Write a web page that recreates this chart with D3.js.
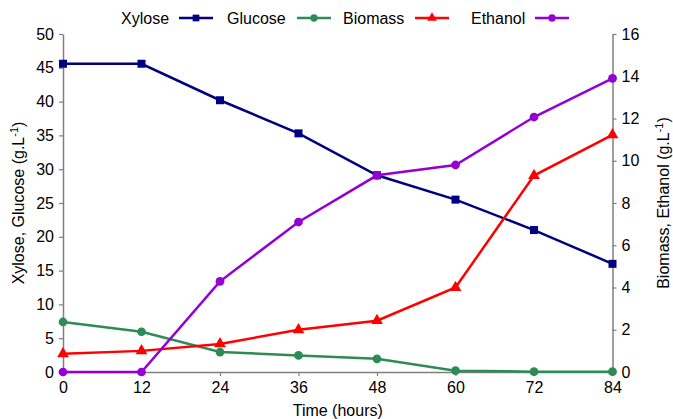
<!DOCTYPE html>
<html><head><meta charset="utf-8">
<script src="https://cdn.jsdelivr.net/npm/d3@7"></script>
<style>
body{margin:0;background:#fff;}
text{font-family:"Liberation Sans",Arial,sans-serif;fill:#000;}
</style></head><body>
<svg id="c" width="673" height="419"></svg>
<script>
const hours = [0, 12, 24, 36, 48, 60, 72, 84];
const xylose = [45.6, 45.6, 40.2, 35.3, 29.1, 25.5, 21.0, 16.0];
const glucose = [7.4, 5.95, 2.95, 2.45, 1.95, 0.2, 0.05, 0.05];
const biomass = [0.86, 1.0, 1.33, 2.0, 2.43, 4.0, 9.3, 11.23];
const ethanol = [0, 0, 4.29, 7.1, 9.31, 9.8, 12.07, 13.9];
const leftTicks = [0, 5, 10, 15, 20, 25, 30, 35, 40, 45, 50];
const rightTicks = [0, 2, 4, 6, 8, 10, 12, 14, 16];
const seriesNames = ["Xylose", "Glucose", "Biomass", "Ethanol"];

const svg = d3.select("#c");
const L = 63, R = 612.5, T = 34, B = 372;
const x = d3.scaleLinear().domain([0, 84]).range([L, R]);
const yL = d3.scaleLinear().domain([0, 50]).range([B, T]);
const yR = d3.scaleLinear().domain([0, 16]).range([B, T]);
const axisColor = "#7f7f7f";

function styleAxis(g) {
  g.select(".domain").attr("stroke", axisColor).attr("stroke-width", 1.5);
  g.selectAll(".tick line").attr("stroke", axisColor).attr("stroke-width", 1.2);
  g.selectAll(".tick text").attr("font-size", 16).attr("fill", "#000")
    .attr("font-family", "Liberation Sans, Arial, sans-serif");
}

svg.append("g").attr("transform", `translate(0,${B})`)
  .call(d3.axisBottom(x).tickValues(hours).tickSize(4).tickSizeOuter(0).tickPadding(6))
  .call(styleAxis);
svg.append("g").attr("transform", `translate(${L},0)`)
  .call(d3.axisLeft(yL).tickValues(leftTicks).tickSize(4).tickSizeOuter(0).tickPadding(5))
  .call(styleAxis);
svg.append("g").attr("transform", `translate(${R},0)`)
  .call(d3.axisRight(yR).tickValues(rightTicks).tickSize(4).tickSizeOuter(0).tickPadding(5))
  .call(styleAxis);

// axis titles
svg.append("text").attr("x", (L + R) / 2).attr("y", 416).attr("text-anchor", "middle")
  .attr("font-size", 16).text("Time (hours)");
const lt = svg.append("text").attr("transform", `translate(24,${(T + B) / 2}) rotate(-90)`)
  .attr("text-anchor", "middle").attr("font-size", 16);
lt.append("tspan").text("Xylose, Glucose (g.L");
lt.append("tspan").attr("dy", -6).attr("font-size", 11).text("-1");
lt.append("tspan").attr("dy", 6).text(")");
const rt = svg.append("text").attr("transform", `translate(669,${(T + B) / 2}) rotate(-90)`)
  .attr("text-anchor", "middle").attr("font-size", 16);
rt.append("tspan").text("Biomass, Ethanol (g.L");
rt.append("tspan").attr("dy", -6).attr("font-size", 11).text("-1");
rt.append("tspan").attr("dy", 6).text(")");

const series = [
  {name: seriesNames[0], vals: xylose, y: yL, color: "#000080", shape: d3.symbolSquare, size: 64},
  {name: seriesNames[1], vals: glucose, y: yL, color: "#2e8b57", shape: d3.symbolCircle, size: 60},
  {name: seriesNames[2], vals: biomass, y: yR, color: "#ff0000", shape: d3.symbolTriangle, size: 60},
  {name: seriesNames[3], vals: ethanol, y: yR, color: "#9400d3", shape: d3.symbolCircle, size: 60}
];

series.forEach(s => {
  const line = d3.line().x((d, i) => x(hours[i])).y(d => s.y(d));
  svg.append("path").datum(s.vals).attr("d", line).attr("fill", "none")
    .attr("stroke", s.color).attr("stroke-width", 2.5);
  svg.append("g").selectAll("path").data(s.vals).join("path")
    .attr("d", d3.symbol().type(s.shape).size(s.size))
    .attr("transform", (d, i) => `translate(${x(hours[i])},${s.y(d)})`)
    .attr("fill", s.color);
});

// legend: label then line sample
const legendX = [121, 227, 343, 471];
const lineX = [179, 297, 415, 535];
series.forEach((s, i) => {
  svg.append("text").attr("x", legendX[i]).attr("y", 24).attr("font-size", 16).text(s.name);
  svg.append("line").attr("x1", lineX[i]).attr("x2", lineX[i] + 34).attr("y1", 18).attr("y2", 18)
    .attr("stroke", s.color).attr("stroke-width", 2.5);
  svg.append("path").attr("d", d3.symbol().type(s.shape).size(s.size * 0.7)())
    .attr("transform", `translate(${lineX[i] + 17},18)`).attr("fill", s.color);
});
</script></body></html>
